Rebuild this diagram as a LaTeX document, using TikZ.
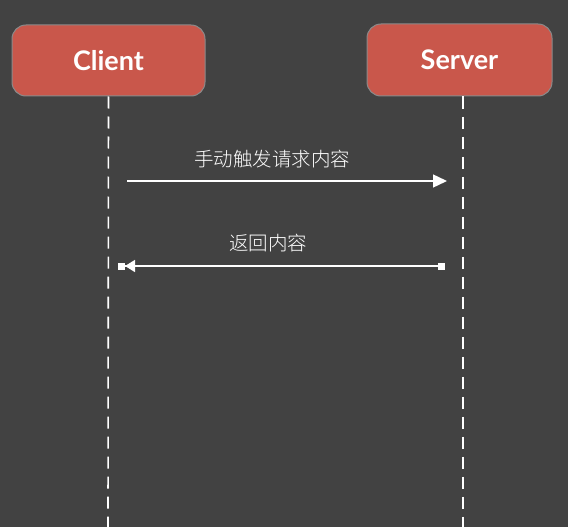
\documentclass[tikz,border=0pt]{standalone}
\usepackage{fontspec}
\setsansfont{Lato}
\newfontfamily\cjk{Noto Sans CJK SC Light}
\usetikzlibrary{positioning,arrows.meta}

\definecolor{bgdark}{HTML}{424242}
\definecolor{boxred}{HTML}{C9574B}
\definecolor{boxline}{HTML}{8A8A8A}

\tikzset{
  actor/.style={draw=boxline, line width=1pt, fill=boxred, rounded corners=14pt,
    text=white, font=\sffamily\bfseries\fontsize{27}{32}\selectfont},
  lifeline/.style={white, line width=1.6pt, dash pattern=on 12pt off 8pt},
  msg/.style={white, line width=1.4pt},
  msglabel/.style={text=white, font=\cjk\fontsize{19.5}{23}\selectfont}
}

\begin{document}
\begin{tikzpicture}[x=1pt, y=-1pt]
% Background and page size
\fill[bgdark] (0,0) rectangle (568,527);
\useasboundingbox (0,0) rectangle (568,527);

% Actors
\node[actor, minimum width=193pt, minimum height=71pt] (client) at (108.5,60.5) {Client};
\node[actor, minimum width=185pt, minimum height=72pt] (server) at (459.5,60) {Server};

% Lifelines
\coordinate (cbot) at (108,527);
\coordinate (sbot) at (463,527);
\draw[lifeline] (client.south) -- (cbot);
\draw[lifeline] (server.south -| sbot) -- (sbot);

% Request
\coordinate (req1) at (127,181);
\coordinate (req2) at (447,181);
\draw[msg, -{Triangle[length=14pt, width=13pt]}] (req1) -- (req2);
\node[msglabel] (reqlabel) at (272,159) {手动触发请求内容};

% Response
\coordinate (resp1) at (445,266);
\coordinate (resp2) at (118,266);
\draw[msg, {Square[length=7pt, width=7pt]}-{Triangle[length=10pt, width=12pt] Square[length=7pt, width=7pt]}]
  (resp1) -- (resp2);
\node[msglabel] (resplabel) at (268,243) {返回内容};
\end{tikzpicture}
\end{document}
